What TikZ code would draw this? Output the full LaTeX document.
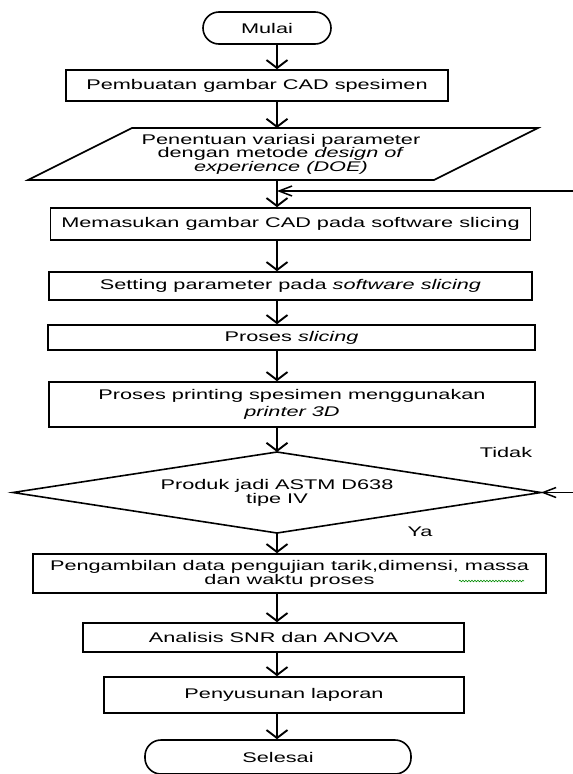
\documentclass[tikz,border=0pt]{standalone}
\usepackage{fontspec}
\setmainfont{Liberation Sans}[FakeStretch=1.55]
\usetikzlibrary{arrows.meta,decorations.pathmorphing}
\newcommand\flowfont{\fontsize{14}{14}\selectfont}
\tikzset{
  box/.style={draw, line width=1.6pt, inner sep=0pt, align=center, font=\flowfont},
  term/.style={draw, line width=1.6pt, rounded corners=16pt, inner sep=0pt, font=\flowfont},
  lbl/.style={inner sep=0pt, font=\flowfont},
  outline/.style={line width=1.6pt, line join=miter},
  arr/.style={line width=1.9pt, -{Straight Barb[length=8pt,width=21pt,line width=1.9pt]}},
  harr/.style={line width=1.5pt, -{Straight Barb[length=13pt,width=10pt,line width=1.5pt]}},
}
\begin{document}
\begin{tikzpicture}[x=1pt,y=-1pt]
\useasboundingbox (0,0) rectangle (573,774);
\fill[white] (0,0) rectangle (573,774);

\node[term, minimum width=128pt, minimum height=32pt] (mulai) at (267,28) {Mulai};
\node[box, minimum width=382pt, minimum height=31pt] (cad) at (257,85.5) {Pembuatan gambar CAD spesimen};

% parallelogram
\node[lbl, align=center, font={\fontsize{14}{13.5}\selectfont}] (param) at (281,154)
  {Penentuan variasi parameter\\dengan metode \textit{design of}\\\textit{experience (DOE)}};
\draw[outline] (28,180) -- (132,128) -- (538,128) -- (434,180) -- cycle;
\coordinate (ptop) at (277,128);
\coordinate (pbot) at (277,180);

\node[box, minimum width=480pt, minimum height=32pt] (masuk) at (290.5,224) {Memasukan gambar CAD pada software slicing};
\node[box, minimum width=483pt, minimum height=28pt] (setting) at (290.5,286) {Setting parameter pada \textit{software slicing}};
\node[box, minimum width=487pt, minimum height=25pt] (slicing) at (291.5,337.5) {Proses \textit{slicing}};
\node[box, minimum width=486pt, minimum height=45pt] (print) at (292,404.5) {Proses printing spesimen menggunakan\\[3pt]\textit{printer 3D}};

% decision diamond
\node[lbl, align=center] (produk) at (277,493) {Produk jadi ASTM D638\\tipe IV};
\coordinate (dtop) at (277,452);
\coordinate (dbot) at (277,533);
\coordinate (dleft) at (13,492.5);
\coordinate (dright) at (541,492.5);
\draw[outline] (dtop) -- (dright) -- (dbot) -- (dleft) -- cycle;

\node[box, minimum width=513pt, minimum height=39pt, font={\fontsize{14}{12}\selectfont}] (data) at (289.5,573.5)
  {Pengambilan data pengujian tarik,dimensi, massa\\dan waktu proses};
\node[box, minimum width=381pt, minimum height=29pt] (anova) at (273.5,637.5) {Analisis SNR dan ANOVA};
\node[box, minimum width=360pt, minimum height=36pt] (lapor) at (284,695) {Penyusunan laporan};
\node[term, minimum width=266pt, minimum height=34pt] (selesai) at (278,757) {Selesai};

\node[lbl] (tidak) at (506,452) {Tidak};
\node[lbl] (ya) at (420,532) {Ya};

% spell-check squiggle under "massa"
\draw[green!55!black, line width=0.6pt, decorate, decoration={snake, amplitude=0.8pt, segment length=3pt}] (459,581) -- (524,581);

\coordinate (lx) at (277,0);
\draw[arr] (mulai.south -| lx) -- (cad.north -| lx);
\draw[arr] (cad.south -| lx) -- (ptop);
\draw[arr] (pbot) -- (masuk.north -| lx);
\draw[arr] (masuk.south -| lx) -- (setting.north -| lx);
\draw[arr] (setting.south -| lx) -- (slicing.north -| lx);
\draw[arr] (slicing.south -| lx) -- (print.north -| lx);
\draw[arr] (print.south -| lx) -- (dtop);
\draw[arr] (dbot) -- (data.north -| lx);
\draw[arr] (data.south -| lx) -- (anova.north -| lx);
\draw[arr] (anova.south -| lx) -- (lapor.north -| lx);
\draw[arr] (lapor.south -| lx) -- (selesai.north -| lx);

% feedback lines entering from the right edge
\coordinate (fbtop) at (573,191);
\coordinate (fbdec) at (573,492.5);
\draw[harr] (fbtop) -- (pbot |- fbtop);
\draw[harr] (fbdec) -- (dright);
\end{tikzpicture}
\end{document}
